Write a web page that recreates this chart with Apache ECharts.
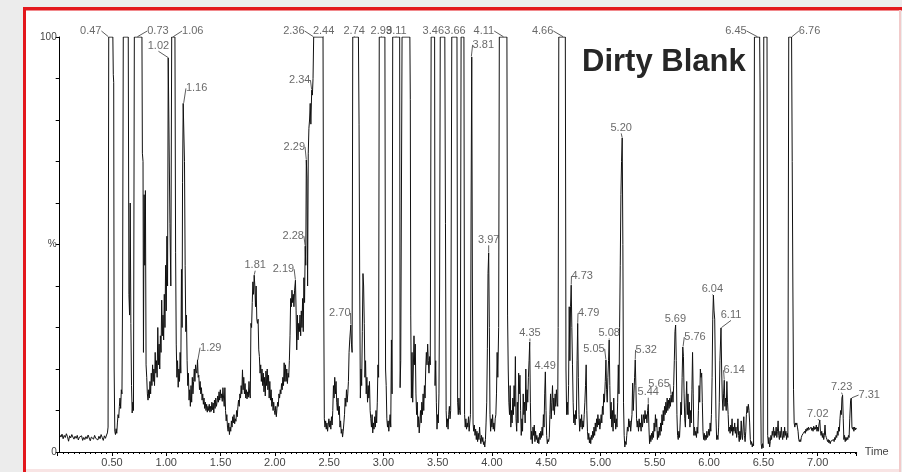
<!DOCTYPE html>
<html><head><meta charset="utf-8">
<script src="https://cdn.jsdelivr.net/npm/echarts@6/dist/echarts.min.js"></script>
<style>html,body{margin:0;padding:0;background:#ececec}#c{width:902px;height:472px}</style>
</head><body><div id="c"></div>
<script>
// ---- DATA: chromatogram trace [time (min), intensity (%)] ----
const traceA = [[0.02,4.1],[0.03,3.6],[0.04,4.3],[0.05,3.2],[0.06,4.0],[0.07,3.5],[0.08,4.4],[0.09,3.7],[0.10,2.6],[0.11,3.9],[0.12,3.4],[0.13,4.2],[0.14,3.6],[0.15,3.1],[0.16,3.8],[0.17,3.3],[0.18,4.0],[0.19,2.9],[0.20,3.6],[0.21,3.2],[0.22,3.9],[0.23,2.8],[0.24,3.5],[0.25,3.0],[0.26,3.7],[0.27,3.2],[0.28,4.1],[0.29,3.4],[0.30,2.7],[0.31,3.6],[0.32,3.9],[0.33,3.1],[0.34,4.0],[0.35,3.3],[0.36,3.7],[0.37,2.9],[0.38,3.8],[0.39,3.2],[0.40,4.2],[0.41,3.5],[0.42,2.8],[0.43,3.9],[0.44,3.3],[0.45,4.1]];
const traceB = [[0.458,4.6],[0.464,6],[0.470,100],[0.508,100],[0.512,91],[0.516,89],[0.520,20],[0.526,5],[0.532,4.2],[0.538,5.6],[0.544,4.5],[0.550,7],[0.556,9],[0.562,8.2],[0.568,11],[0.574,13],[0.580,10.5],[0.586,15],[0.592,14],[0.598,40],[0.604,100],[0.650,100],[0.656,38],[0.662,33],[0.668,60],[0.674,31],[0.680,16],[0.686,9.4],[0.692,12],[0.698,10],[0.706,100],[0.776,100],[0.780,72],[0.786,70],[0.790,24],[0.796,62],[0.802,45],[0.808,63],[0.814,21],[0.820,18],[0.826,14],[0.832,12.5],[0.838,15],[0.844,13],[0.850,17],[0.856,14],[0.862,19],[0.868,16],[0.874,21],[0.880,17],[0.886,20],[0.892,16],[0.898,24],[0.904,19],[0.910,22],[0.916,18],[0.922,30],[0.928,21],[0.934,26],[0.940,20],[0.946,28],[0.952,24],[0.958,36.6],[0.964,28],[0.970,33],[0.976,27],[0.982,38],[0.988,30],[0.994,45],[1.000,34],[1.006,52],[1.012,40],[1.018,95],[1.026,95.2],[1.034,55],[1.042,40],[1.050,100],[1.080,100],[1.086,48],[1.092,26],[1.098,18],[1.104,22],[1.110,15.6],[1.116,20],[1.122,17],[1.128,24],[1.134,19],[1.140,44],[1.146,30],[1.150,65],[1.156,84],[1.162,84],[1.168,70],[1.174,45],[1.180,29],[1.186,33],[1.192,22],[1.198,16],[1.204,19],[1.210,12.5],[1.216,15],[1.222,11],[1.228,16],[1.234,12],[1.240,18],[1.246,14],[1.252,17],[1.258,20],[1.264,17],[1.270,21],[1.276,19.5],[1.282,19],[1.288,22.2],[1.294,18],[1.300,18.5],[1.306,15],[1.312,17],[1.318,14],[1.324,15.5],[1.330,12.5],[1.336,14],[1.342,11.5],[1.348,13],[1.354,10.5],[1.360,12],[1.366,10],[1.372,11.5],[1.378,9.6],[1.384,11]];
const traceC = [[1.390,10],[1.396,11.5],[1.402,9.6],[1.408,11],[1.414,9.8],[1.420,12],[1.426,10.2],[1.432,11.8],[1.438,9.4],[1.444,12.5],[1.450,10.5],[1.456,13],[1.462,11],[1.468,12],[1.474,13.5],[1.480,12],[1.486,14.5],[1.492,12.5],[1.498,15],[1.504,13],[1.510,14],[1.516,12.2],[1.522,15.5],[1.528,13],[1.534,11],[1.540,15.5],[1.546,10],[1.552,7.5],[1.558,9],[1.564,6],[1.570,5],[1.576,7],[1.582,4.2],[1.588,6],[1.594,5],[1.600,7.5],[1.606,6],[1.612,8.5],[1.618,7],[1.624,9],[1.630,6.8],[1.636,8],[1.642,7.4],[1.648,10],[1.654,8.5],[1.660,11],[1.666,12.5],[1.672,11],[1.678,14],[1.684,13],[1.690,16],[1.696,14],[1.702,19.8],[1.708,15],[1.714,18],[1.720,14],[1.726,16.5],[1.732,13],[1.738,15],[1.744,12.8],[1.750,14.5],[1.756,13.2],[1.762,17],[1.768,14],[1.774,13],[1.780,31],[1.786,30],[1.792,36],[1.798,41],[1.804,38],[1.810,42.6],[1.816,40],[1.822,35],[1.828,40],[1.834,32],[1.840,31],[1.846,32],[1.852,24.6],[1.858,23],[1.864,19],[1.870,21],[1.876,17],[1.882,20],[1.888,16],[1.894,19],[1.900,14.5],[1.906,18],[1.912,13.5],[1.918,19.5],[1.924,16],[1.930,20],[1.936,15],[1.942,18.5],[1.948,13],[1.954,17],[1.960,12.5],[1.966,15],[1.972,11],[1.978,13],[1.984,10],[1.990,12],[1.996,10],[2.002,9],[2.008,11],[2.014,8.5],[2.020,10.5],[2.026,12],[2.032,11],[2.038,14],[2.044,13],[2.050,15],[2.056,14],[2.062,16.5],[2.068,15],[2.074,18],[2.080,16],[2.086,21.5],[2.092,17],[2.098,21],[2.104,17],[2.110,20],[2.116,16.5],[2.122,19],[2.128,18],[2.134,22],[2.140,28],[2.146,37],[2.152,35],[2.158,39],[2.164,36],[2.170,38],[2.176,35],[2.182,39],[2.190,41.4],[2.196,34],[2.202,24.6],[2.208,33],[2.214,27],[2.220,31],[2.226,29],[2.232,33],[2.238,28],[2.244,34],[2.250,30],[2.256,37],[2.262,29],[2.268,42],[2.274,36],[2.280,49.6],[2.285,45],[2.290,70.4],[2.296,66],[2.302,40],[2.308,72],[2.314,78],[2.320,80],[2.326,84],[2.332,79],[2.340,87.2],[2.346,86],[2.352,90],[2.358,100]];
const traceD = [[2.444,100],[2.450,40],[2.456,8],[2.462,6],[2.468,7.5],[2.474,5.5],[2.480,7],[2.486,5],[2.492,6.5],[2.498,8],[2.504,6],[2.510,7.5],[2.516,5.5],[2.522,8.5],[2.528,6.5],[2.534,10],[2.540,16],[2.546,13],[2.552,18],[2.558,14],[2.564,17],[2.570,12],[2.576,10],[2.582,13],[2.588,9],[2.594,11],[2.600,6],[2.606,7.5],[2.612,4.5],[2.618,5.5],[2.624,3.6],[2.630,5],[2.636,7],[2.642,9],[2.648,13],[2.654,11],[2.660,15],[2.666,12],[2.672,14],[2.678,17],[2.684,24],[2.690,27],[2.700,30.6],[2.706,26],[2.712,24],[2.718,100],[2.770,100],[2.776,79],[2.782,40],[2.788,13],[2.794,20],[2.800,16],[2.806,29],[2.812,43],[2.818,40],[2.824,31],[2.830,18],[2.836,22],[2.842,14],[2.848,18],[2.854,12],[2.860,16],[2.866,13],[2.872,17],[2.878,10],[2.884,8],[2.890,6],[2.896,9],[2.902,4.6],[2.908,7],[2.914,5.5],[2.920,8.5],[2.926,6],[2.932,10],[2.938,7],[2.944,12],[2.950,21],[2.956,18]];
const traceE = [[2.962,100],[3.014,100],[3.020,20],[3.026,16],[3.032,8],[3.038,6],[3.044,7.5],[3.050,5],[3.056,7],[3.062,9],[3.068,6],[3.074,27],[3.080,14],[3.086,100],[3.150,100],[3.154,15.5],[3.160,22],[3.166,60],[3.172,100],[3.244,100],[3.248,85],[3.252,33],[3.258,13],[3.264,24],[3.270,12],[3.276,20],[3.282,28],[3.288,21],[3.294,26],[3.300,14],[3.306,9],[3.312,12],[3.318,6],[3.324,8.5],[3.330,4.6],[3.336,7],[3.342,10],[3.348,7],[3.354,12],[3.360,9],[3.366,14],[3.372,10],[3.378,16],[3.384,13],[3.390,20],[3.396,24],[3.402,21],[3.408,26],[3.414,22],[3.420,19],[3.426,23],[3.432,21],[3.440,100],[3.472,100],[3.476,16],[3.482,22],[3.488,12],[3.494,5.5],[3.500,9],[3.506,7],[3.512,14],[3.518,40],[3.524,100],[3.566,100],[3.572,55],[3.578,10],[3.584,6],[3.590,8],[3.596,5.5],[3.602,9],[3.608,11],[3.614,8],[3.620,10],[3.630,100],[3.678,100],[3.684,12],[3.690,9],[3.696,13],[3.702,10],[3.708,9],[3.716,100],[3.742,100],[3.748,9],[3.754,6],[3.760,8],[3.766,5.5],[3.772,7],[3.778,6],[3.784,8.5],[3.790,5],[3.796,7],[3.802,9],[3.808,60],[3.814,95.2],[3.820,40],[3.826,7],[3.832,5],[3.838,6.5],[3.844,4],[3.850,5.5],[3.856,3],[3.862,5],[3.868,2.5],[3.874,4.5],[3.880,3],[3.886,6],[3.892,3.5],[3.898,2],[3.904,4],[3.910,2.5],[3.916,3.5],[3.922,1.8],[3.928,2.5],[3.934,1.2],[3.940,3],[3.946,7],[3.952,12],[3.958,25],[3.964,43],[3.970,48],[3.976,30],[3.982,9],[3.988,5],[3.994,8],[4.000,6],[4.006,9],[4.012,5.5],[4.018,7],[4.024,5],[4.030,8],[4.036,9],[4.042,14],[4.048,24],[4.054,18],[4.062,30],[4.068,100],[4.138,100],[4.144,33],[4.150,20],[4.156,12],[4.162,9],[4.168,16]];
const traceF = [[4.174,6],[4.180,10],[4.186,7],[4.192,13],[4.198,9],[4.204,16],[4.210,11],[4.216,23],[4.222,8],[4.228,5],[4.234,12],[4.240,7],[4.246,19],[4.252,14],[4.258,18.5],[4.264,10],[4.270,4],[4.276,8],[4.282,5],[4.288,14],[4.294,9],[4.300,12],[4.306,7],[4.312,20],[4.318,10],[4.324,15],[4.330,12],[4.336,18],[4.342,22],[4.348,26.5],[4.354,12],[4.360,3],[4.366,5],[4.372,2],[4.378,6],[4.384,4],[4.390,6.5],[4.396,2.5],[4.402,5],[4.408,3],[4.414,4],[4.420,2.2],[4.426,3.5],[4.432,2],[4.438,4.5],[4.444,3],[4.450,5],[4.456,3.5],[4.462,6],[4.468,4],[4.474,9],[4.480,6],[4.486,14],[4.492,19.3],[4.498,10],[4.504,4],[4.510,2],[4.516,3],[4.522,2.5],[4.528,3.5],[4.534,9],[4.540,14],[4.546,8],[4.552,12],[4.558,16],[4.564,10],[4.570,13],[4.576,9],[4.582,14],[4.588,11],[4.594,15],[4.600,12],[4.606,11],[4.610,30]];
const traceG = [[4.616,100],[4.676,100],[4.682,20],[4.688,9],[4.694,12],[4.700,9],[4.706,16],[4.712,35],[4.718,22],[4.724,35],[4.730,40.2],[4.736,30],[4.742,21],[4.748,12],[4.754,7],[4.760,9],[4.766,6.5],[4.772,10],[4.778,8],[4.784,22],[4.790,31],[4.796,18],[4.802,9],[4.808,5],[4.814,8],[4.820,6],[4.826,9],[4.832,5.5],[4.838,7.5],[4.844,6],[4.850,9],[4.856,12],[4.862,16],[4.868,21],[4.874,10],[4.880,5],[4.886,3],[4.892,4.5],[4.898,2.2],[4.904,3.5],[4.910,2],[4.916,4],[4.922,3],[4.928,5],[4.934,3.5],[4.940,6],[4.946,4],[4.952,7],[4.958,5],[4.964,8],[4.970,6],[4.976,9],[4.982,6.5],[4.988,8],[4.994,5.5],[5.000,7],[5.006,9],[5.012,7],[5.018,11],[5.024,9],[5.030,14],[5.036,12],[5.044,17],[5.050,22.2],[5.056,15],[5.062,12],[5.068,18],[5.074,22],[5.080,27],[5.086,16],[5.092,8],[5.098,12],[5.104,6],[5.110,10],[5.116,5],[5.122,13],[5.128,7],[5.134,9],[5.140,5.5],[5.146,8],[5.152,6],[5.158,12],[5.164,21],[5.170,14],[5.176,30],[5.182,45],[5.188,62],[5.194,70],[5.200,75.7],[5.206,50],[5.212,12],[5.218,4],[5.224,1.2],[5.230,2.5],[5.236,1.8],[5.242,4],[5.248,6],[5.254,5],[5.260,8],[5.266,6],[5.272,7.5],[5.278,5],[5.284,7],[5.290,9],[5.296,16.6],[5.302,10],[5.308,14],[5.314,18],[5.320,22.2],[5.326,16],[5.332,8],[5.338,6],[5.344,7.5],[5.350,5],[5.356,8],[5.362,6],[5.368,7],[5.374,5],[5.380,9],[5.386,6]];
const traceH = [[5.392,6],[5.398,9],[5.404,7],[5.410,10],[5.416,8],[5.422,9],[5.428,7],[5.434,10],[5.440,11.5],[5.446,6],[5.452,2],[5.458,4],[5.464,2.5],[5.470,4.5],[5.476,3],[5.482,5],[5.488,3.5],[5.494,7],[5.500,5],[5.506,9],[5.512,6],[5.518,8],[5.524,3],[5.530,5],[5.536,3.5],[5.542,6],[5.548,4],[5.554,7],[5.560,5],[5.566,9],[5.572,6.5],[5.578,10],[5.584,7.5],[5.590,11],[5.596,9],[5.602,12],[5.608,9.5],[5.614,13],[5.620,10],[5.626,12.5],[5.632,10.5],[5.638,13],[5.644,11],[5.650,13.7],[5.656,12],[5.662,14.5],[5.668,12],[5.674,16],[5.680,22],[5.686,29],[5.692,30.6],[5.698,22],[5.704,9],[5.710,4],[5.716,3],[5.722,5],[5.728,3.5],[5.734,7],[5.740,12],[5.746,9],[5.752,18],[5.758,25.3],[5.764,23],[5.770,14],[5.776,8],[5.782,6],[5.788,12],[5.794,17],[5.800,9],[5.806,14],[5.812,8],[5.818,12],[5.824,6],[5.830,10],[5.836,7],[5.842,15],[5.848,24],[5.854,14],[5.860,4],[5.866,6],[5.872,4],[5.878,5],[5.884,3.5],[5.890,6],[5.896,4.5],[5.902,10],[5.908,16],[5.914,12],[5.920,20],[5.926,18],[5.932,19],[5.938,12],[5.944,5],[5.950,3],[5.956,4.5],[5.962,2.8],[5.968,4],[5.974,3],[5.980,5],[5.986,3.5],[5.992,4],[5.998,5.5],[6.004,4],[6.010,7],[6.016,5],[6.022,9],[6.028,18],[6.034,32],[6.040,37.8],[6.046,34],[6.052,32],[6.058,20],[6.064,8],[6.070,3],[6.076,4],[6.082,3],[6.088,6],[6.094,12],[6.100,22],[6.110,29.9],[6.116,20],[6.122,13],[6.128,10],[6.134,14],[6.140,17.3],[6.146,11],[6.152,13],[6.158,10],[6.164,17],[6.170,12],[6.176,9],[6.182,5]];
const traceI = [[6.188,6],[6.194,4.5],[6.200,6.5],[6.206,5],[6.212,8],[6.218,4],[6.224,6],[6.230,5],[6.236,7],[6.242,4.5],[6.248,6],[6.254,3.5],[6.260,5],[6.266,8],[6.272,4],[6.278,2.5],[6.284,5],[6.290,3],[6.296,7.5],[6.302,4],[6.308,3],[6.314,6],[6.320,8.5],[6.326,4],[6.332,2.5],[6.338,5],[6.344,9],[6.350,11],[6.356,9.5],[6.362,11.5],[6.368,10],[6.374,7],[6.380,3],[6.386,1.8],[6.392,2.5],[6.398,1.2],[6.404,2],[6.410,1.5],[6.418,100],[6.466,100],[6.470,87],[6.474,20],[6.480,2],[6.486,0.8],[6.492,2],[6.498,1],[6.504,100],[6.534,100],[6.540,4],[6.546,2],[6.552,3.5],[6.558,1.2],[6.564,2.5],[6.570,4],[6.576,3],[6.582,5],[6.588,4],[6.594,6],[6.600,3.5],[6.606,5],[6.612,4],[6.618,6],[6.624,3.5],[6.630,5],[6.636,7.5],[6.642,4],[6.648,3],[6.654,5],[6.660,3.5],[6.666,6],[6.672,4],[6.678,3],[6.684,5],[6.690,3.5],[6.696,6],[6.702,4],[6.708,5],[6.714,3],[6.720,4.5],[6.726,3.5],[6.734,100],[6.760,100],[6.766,70],[6.772,40],[6.778,15],[6.784,7],[6.790,6],[6.796,7],[6.802,6.5],[6.808,7],[6.814,6],[6.820,5],[6.826,3],[6.832,2.5],[6.838,3],[6.844,2.5],[6.850,3.5],[6.856,4],[6.862,3.8],[6.868,4.5],[6.874,4.2],[6.880,5],[6.886,4.5],[6.892,5.5],[6.898,5],[6.904,5.8],[6.910,5.2],[6.916,6],[6.922,5.4],[6.928,5.8],[6.934,5],[6.940,6],[6.946,5.2],[6.952,5.8],[6.958,5],[6.964,6.2],[6.970,5.4],[6.976,6],[6.982,5.5],[6.988,6.5],[6.994,5],[7.000,6],[7.006,5],[7.012,6.5],[7.020,7.7],[7.026,5],[7.032,4],[7.038,5],[7.044,3.5],[7.050,4.5],[7.056,3],[7.062,4],[7.068,6.5],[7.074,4],[7.080,3.5],[7.086,3],[7.092,2.5],[7.098,3],[7.104,2.2],[7.110,2.8],[7.116,2],[7.122,2.6],[7.128,2.2],[7.134,2.8],[7.140,2.4],[7.146,3],[7.152,2.5],[7.158,3.5],[7.164,3],[7.170,4],[7.176,3.5],[7.182,5],[7.188,4],[7.194,6],[7.200,5],[7.206,8],[7.212,10],[7.218,9],[7.224,13],[7.230,13.7],[7.236,8],[7.242,3],[7.248,4],[7.254,2.5],[7.260,3.5],[7.266,2.8],[7.272,3.5],[7.278,3],[7.284,4],[7.290,3.5],[7.296,8],[7.304,12.5],[7.310,13],[7.316,6],[7.322,5.5],[7.328,6],[7.334,5],[7.340,6],[7.346,5.3],[7.352,5.8],[7.358,5.5]];

// peak annotations (retention time text, apex intensity)
const peakLabels = ['0.47','0.73','1.02','1.06','1.16','1.29','1.81','2.19','2.28','2.29','2.34','2.36','2.44','2.70','2.74','2.99','3.11','3.46','3.66','3.81','3.97','4.11','4.35','4.49','4.66','4.73','4.79','5.05','5.08','5.20','5.32','5.44','5.65','5.69','5.76','6.04','6.11','6.14','6.45','6.76','7.02','7.23','7.31'];
const peakHeights = [100,100,95,100,84,22,42.6,41.4,49.6,70.4,87.2,100,100,30.6,100,100,100,100,100,95.2,48,100,26.5,19.3,100,40.2,31,22.2,27,75.7,22.2,11.5,13.7,30.6,25.3,37.8,29.9,17.3,100,100,7.7,13.7,13];

const yTickLabels = {0:'0', 50:'%', 100:'100'};
const xAxisName = 'Time';
const titleText = 'Dirty Blank';

// ---- STYLE: label nudges in pixels [dx, dy] ----
const labelNudge = {'0.47':[-18,2],'0.73':[21,2],'1.02':[-10,-4],'1.06':[20,2],'1.16':[13,-7],'1.29':[13,-5],'1.81':[1,-2],'2.19':[-12,-3],'2.28':[-12,-2],'2.29':[-12,-5],'2.34':[-12,-2],'2.36':[-20,2],'2.44':[1,2],'2.70':[-11,-4],'2.74':[-1,2],'2.99':[-1,2],'3.11':[1,2],'3.46':[0,2],'3.66':[0,2],'3.81':[12,-4],'3.97':[0,-5],'4.11':[-20,2],'4.35':[0,-1],'4.49':[0,2],'4.66':[-21,2],'4.73':[11,-1],'4.79':[11,-2],'5.05':[-12,-3],'5.08':[0,1],'5.20':[-1,-2],'5.32':[11,-2],'5.44':[0,-4],'5.65':[-12,-3],'5.69':[0,2],'5.76':[12,-2],'6.04':[-1,2],'6.11':[10,-5],'6.14':[10,-2],'6.45':[-22,2],'6.76':[18,2],'7.02':[-2,2],'7.23':[-1,0],'7.31':[18,5]};

const trace = [].concat(traceA, traceB, traceC, traceD, traceE, traceF, traceG, traceH, traceI);
const peakPoints = peakLabels.map((s, i) => [parseFloat(s), peakHeights[i]]);
const FONT = '"Liberation Sans", Arial, sans-serif';

const chart = echarts.init(document.getElementById('c'), null, {renderer: 'canvas'});
chart.setOption({
  animation: false,
  backgroundColor: '#ececec',
  graphic: [
    {type: 'rect', z: -10, silent: true, shape: {x: 26, y: 10, width: 874, height: 459}, style: {fill: '#ffffff'}},
    {type: 'rect', z: -9, silent: true, shape: {x: 23, y: 7, width: 3, height: 465}, style: {fill: '#e3171c'}},
    {type: 'rect', z: -9, silent: true, shape: {x: 23, y: 7, width: 879, height: 3.5}, style: {fill: '#e3171c'}},
    {type: 'rect', z: -9, silent: true, shape: {x: 899, y: 10, width: 2, height: 462}, style: {fill: '#f2caca'}},
    {type: 'rect', z: -9, silent: true, shape: {x: 26, y: 469, width: 873, height: 3}, style: {fill: '#f8e4e4'}},
    {type: 'text', left: 582, top: 47, z: 10, silent: true,
     style: {text: titleText, font: 'bold 31px ' + FONT, fill: '#262626'}}
  ],
  grid: {left: 57.7, right: 45.3, top: 37, bottom: 20, containLabel: false},
  xAxis: {
    type: 'value', min: 0, max: 7.36, interval: 0.5,
    axisLine: {onZero: false, lineStyle: {color: '#000', width: 1}},
    axisTick: {length: 4, lineStyle: {color: '#000'}},
    minorTick: {show: true, splitNumber: 10, length: 2, lineStyle: {color: '#000'}},
    splitLine: {show: false},
    axisLabel: {
      formatter: v => (v > 0 && Math.abs(v / 0.5 - Math.round(v / 0.5)) < 1e-6) ? v.toFixed(2) : '',
      color: '#444', fontSize: 11, fontFamily: FONT, margin: 5, showMaxLabel: false
    },
    name: xAxisName, nameLocation: 'end', nameGap: 8,
    nameTextStyle: {color: '#444', fontSize: 11, fontFamily: FONT, verticalAlign: 'middle'}
  },
  yAxis: {
    type: 'value', min: 0, max: 100, interval: 10, offset: -2,
    axisLine: {show: true, lineStyle: {color: '#000', width: 1}},
    axisTick: {show: true, length: 4, lineStyle: {color: '#000'}},
    splitLine: {show: false},
    axisLabel: {formatter: v => (yTickLabels[v] !== undefined ? yTickLabels[v] : ''), color: '#444', fontSize: 10, fontFamily: FONT, margin: 3}
  },
  series: [
    {
      type: 'line', data: trace, showSymbol: false, symbol: 'none', clip: true, silent: true, z: 3,
      lineStyle: {color: '#111', width: 1}
    },
    {
      type: 'scatter', data: peakPoints, symbolSize: 1, silent: true, z: 4,
      itemStyle: {color: 'rgba(0,0,0,0)'},
      label: {show: true, position: 'top', distance: 2, formatter: p => peakLabels[p.dataIndex],
              color: '#444', fontSize: 11, fontFamily: FONT},
      labelLine: {show: true, lineStyle: {color: '#333', width: 0.8}},
      labelLayout: p => { const n = labelNudge[peakLabels[p.dataIndex]] || [0, 0]; return {dx: n[0], dy: n[1]}; }
    }
  ]
});
</script>
</body></html>
